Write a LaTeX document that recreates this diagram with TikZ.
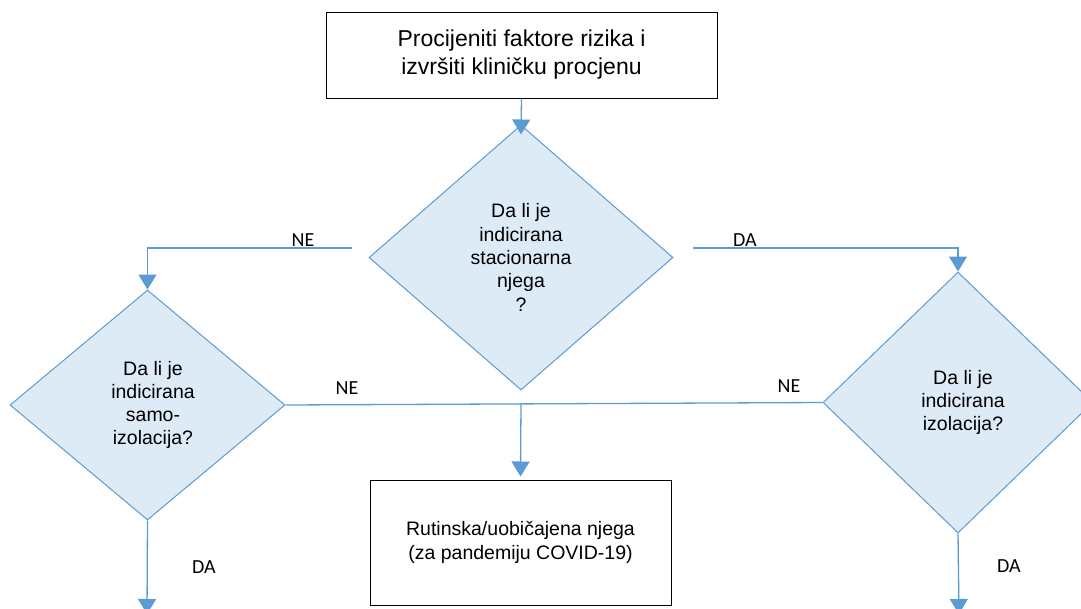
\documentclass[tikz,border=0pt]{standalone}
\usepackage{fontspec}
\setmainfont{Liberation Sans}
\newfontfamily\labelfont{Carlito}
\usetikzlibrary{shapes.geometric,arrows.meta}
\definecolor{flowline}{HTML}{5B9BD5}
\definecolor{flowfill}{HTML}{DDEBF7}
\begin{document}
\begin{tikzpicture}[x=1pt,y=-1pt,
  procbox/.style={draw=black,line width=1pt,fill=white,inner sep=0pt,align=center},
  decision/.style={diamond,draw=flowline,line width=1pt,fill=flowfill,inner sep=0pt,
    align=center,font=\fontsize{19.5}{23.3}\selectfont},
  conn/.style={draw=flowline,line width=1.3pt},
  flowarrow/.style={conn,-{Triangle[width=18pt,length=15pt]}},
  answer/.style={font=\labelfont\fontsize{20}{24}\selectfont,inner sep=0pt}]
  \useasboundingbox (0,0) rectangle (1081,608);
  \clip (0,0) rectangle (1081,608);

  % process boxes
  \node[procbox,minimum width=391pt,minimum height=86pt,
        font=\fontsize{23}{28}\selectfont] (start) at (521.5,55)
        {Procijeniti faktore rizika i\\izvršiti kliničku procjenu};
  \node[procbox,minimum width=301pt,minimum height=125pt,
        font=\fontsize{19.5}{23.3}\selectfont] (care) at (520.5,542.5)
        {Rutinska/uobičajena njega\\(za pandemiju COVID-19)};

  % decisions
  \node[decision,minimum width=304pt,minimum height=265pt] (ward) at (521,257.5)
        {Da li je\\indicirana\\stacionarna\\njega\\?};
  \node[decision,minimum width=275pt,minimum height=230pt] (self) at (147.5,405)
        {\hspace*{11pt}Da li je\\\hspace*{11pt}indicirana\\\hspace*{11pt}samo-\\\hspace*{11pt}izolacija?};
  \node[decision,minimum width=270pt,minimum height=261pt] (iso) at (958,402.5)
        {\hspace*{10pt}Da li je\\\hspace*{10pt}indicirana\\\hspace*{10pt}izolacija?};

  % free ends of connectors
  \coordinate (neStart) at (352,248);
  \coordinate (daStart) at (693,248);
  \coordinate (join) at (521,403);
  \coordinate (selfOut) at (147,614);
  \coordinate (isoOut) at (959,614);

  % connectors (canvas y points up, so a negative yshift moves down)
  \draw[flowarrow] (start.south) -- ([yshift=-10pt]ward.north);
  \draw[flowarrow] (neStart) -| (self.north);
  \draw[flowarrow] (daStart) -| (iso.north);
  \draw[conn] (self.east) -- (iso.west);
  \draw[flowarrow] (join) -- ([yshift=3pt]care.north);
  \draw[flowarrow] (self.south) -- (selfOut);
  \draw[flowarrow] (iso.south) -- (isoOut);

  % answers
  \node[answer] (l1) at (303,240) {NE};
  \node[answer] (l2) at (745,240) {DA};
  \node[answer] (l3) at (347,388) {NE};
  \node[answer] (l4) at (789,386) {NE};
  \node[answer] (l5) at (204,567) {DA};
  \node[answer] (l6) at (1009,566) {DA};
\end{tikzpicture}
\end{document}
